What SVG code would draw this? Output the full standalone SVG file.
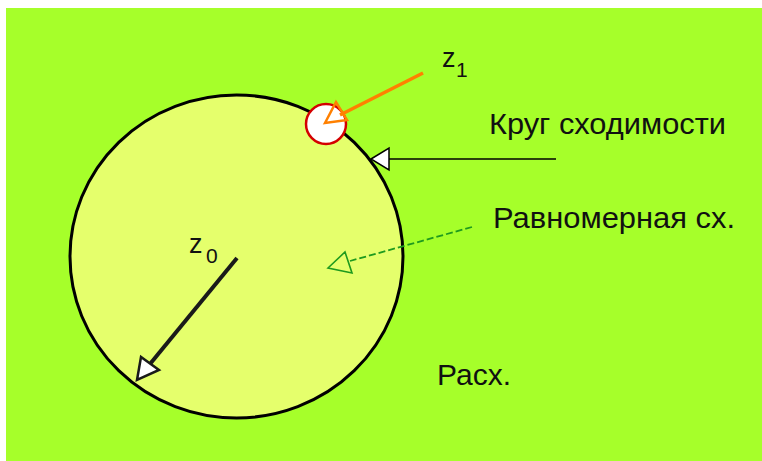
<svg xmlns="http://www.w3.org/2000/svg" width="762" height="461" viewBox="0 0 762 461">
<defs>
<style>
text{font-family:"Liberation Sans",Arial,sans-serif;fill:#111}
.lbl{font-size:30px}
.z{font-size:27px}
.sub{font-size:21px}
</style>
</defs>
<rect x="0" y="0" width="762" height="461" fill="#ffffff"/>
<rect x="6" y="8" width="756" height="453" fill="#A6FF2A"/>
<g id="disk">
<ellipse cx="236.5" cy="256.5" rx="166.5" ry="161.5" fill="#E5FF6C" stroke="#000" stroke-width="3"/>
</g>
<g id="z1point">
<circle cx="326" cy="124" r="20" fill="#fff" stroke="#D40000" stroke-width="2.5"/>
</g>
<g id="connectors">
<line x1="423" y1="73" x2="340" y2="115" stroke="#FF8000" stroke-width="3.5"/>
<polygon points="325,123 336,102 347,120" fill="none" stroke="#FF8000" stroke-width="2.5" stroke-linejoin="miter"/>
<line x1="556" y1="159" x2="389" y2="159" stroke="#000" stroke-width="1.6"/>
<polygon points="371,159 389,148 389,170" fill="#fff" stroke="#000" stroke-width="1.5"/>
<line x1="472" y1="227" x2="350" y2="261" stroke="#1E9A1E" stroke-width="1.8" stroke-dasharray="7,3"/>
<polygon points="328,268 345,252 352,273" fill="none" stroke="#1E9A1E" stroke-width="1.6"/>
<line x1="237" y1="258" x2="150" y2="364" stroke="#1a1a1a" stroke-width="4"/>
<polygon points="137,380 141,357 159,370" fill="#fff" stroke="#1a1a1a" stroke-width="2.5"/>
</g>
<g id="labels">
<text class="z" x="442" y="67">z</text><text class="sub" x="456" y="77">1</text>
<text class="z" x="189" y="253">z</text><text class="sub" x="206" y="263">0</text>
<text class="lbl" x="489" y="134" textLength="237" lengthAdjust="spacingAndGlyphs">Круг сходимости</text>
<text class="lbl" x="493" y="228" textLength="242" lengthAdjust="spacingAndGlyphs">Равномерная сх.</text>
<text class="lbl" x="437" y="385" textLength="74" lengthAdjust="spacingAndGlyphs">Расх.</text>
</g>
</svg>
